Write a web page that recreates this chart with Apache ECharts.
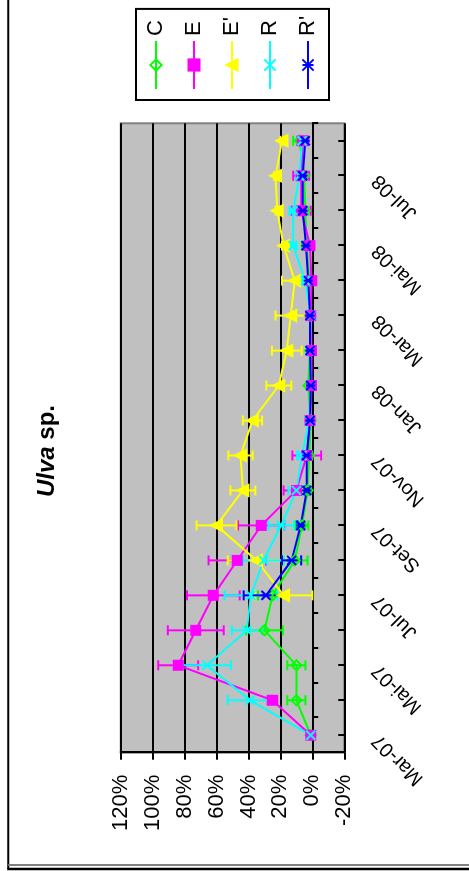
<!DOCTYPE html>
<html>
<head>
<meta charset="utf-8">
<script src="https://cdn.jsdelivr.net/npm/echarts@6/dist/echarts.min.js"></script>
<style>
  html, body { margin: 0; padding: 0; background: #fff; overflow: hidden; }
  body { width: 469px; height: 871px; position: relative; }
  /* the chart is laid out landscape and turned a quarter turn counter-clockwise */
  #chart {
    position: absolute; left: 0; top: 0;
    width: 871px; height: 469px;
    transform-origin: 0 0;
    transform: translateY(871px) rotate(-90deg);
  }
</style>
</head>
<body>
<div id="chart"></div>
<script>
// Monthly sampling, Mar-07 .. Ago-08
const months = ['Mar-07','Abr-07','Mai-07','Jun-07','Jul-07','Ago-07','Set-07','Out-07','Nov-07',
                'Dez-07','Jan-08','Fev-08','Mar-08','Abr-08','Mai-08','Jun-08','Jul-08','Ago-08'];

const valueTicks = [-20, 0, 20, 40, 60, 80, 100, 120];

// Cover (%) per treatment, with +/- error
const seriesNames = ['C', 'E', "E'", 'R', "R'"];

const valC  = [1, 10, 10, 30, 25, 11, 6.5, 3, 2, 1, 2.5, 1.5, 1.5, 2, 3.5, 4.5, 5, 8];
const errC  = [0, 5.7, 5.7, 11.5, 9, 8, 4, 2, 2, 1, 1, 1, 1, 1, 3, 2, 2, 4];

const valE  = [1, 25, 84, 73, 62, 47, 32, 10, 3.5, 1.5, 0.5, 0.5, 1, 0.5, 1.5, 7, 7, 6];
const errE  = [0, 3, 12.5, 17.5, 16.5, 18, 14.5, 8, 9, 1, 1, 1, 1, 3, 2, 6, 5, 3.5];

const valE2 = [null, null, null, null, 18, 35, 60, 43.5, 45, 37.5, 21, 16, 13.5, 11, 18, 22, 23, 19];
const errE2 = [null, null, null, null, 18, 18, 12.5, 7.8, 7.6, 6, 7.8, 9.3, 9.6, 8, 1, 1, 1, 1];

const valR  = [1, 39, 66, 41, 38.5, 30.5, 19.5, 10, 6.5, 2, 1, 1.5, 1, 4.5, 12, 12, 8, 6.5];
const errR  = [0, 14, 15, 9.4, 16.5, 13, 8, 5, 3, 1, 1, 1, 1, 2, 2, 2.3, 2, 2];

const valR2 = [null, null, null, null, 29, 13, 7.3, 3.5, 3.5, 1.5, 1, 1.5, 1.5, 2.5, 4, 6, 6, 4.5];
const errR2 = [null, null, null, null, 14, 6, 2, 1, 1, 1, 1, 1, 1, 1, 1, 1, 1, 1];

const colors = ['#00FF00', '#FF00FF', '#FFFF00', '#00FFFF', '#0000FF'];

const FONT = '"Liberation Sans", Arial, sans-serif';

const symbolX = 'path://M0,0L10,10M10,0L0,10';
const symbolStar = 'path://M0,0L10,10M10,0L0,10M5,0L5,10';

const defs = [
  { name: seriesNames[0], vals: valC,  errs: errC,  symbol: 'diamond',  size: 10, fill: 'rgba(0,0,0,0)' },
  { name: seriesNames[1], vals: valE,  errs: errE,  symbol: 'rect',     size: 9,  fill: null },
  { name: seriesNames[2], vals: valE2, errs: errE2, symbol: 'triangle', size: 11, fill: null },
  { name: seriesNames[3], vals: valR,  errs: errR,  symbol: symbolX,    size: 9,  fill: 'rgba(0,0,0,0)' },
  { name: seriesNames[4], vals: valR2, errs: errR2, symbol: symbolStar, size: 9,  fill: 'rgba(0,0,0,0)' }
];

function errorBarRenderer(color) {
  return function (params, api) {
    const x = api.value(0);
    const lo = api.coord([x, api.value(1)]);
    const hi = api.coord([x, api.value(2)]);
    const w = 5;
    const style = { stroke: color, lineWidth: 2 };
    return {
      type: 'group',
      children: [
        { type: 'line', shape: { x1: lo[0], y1: lo[1], x2: hi[0], y2: hi[1] }, style: style },
        { type: 'line', shape: { x1: lo[0] - w, y1: lo[1], x2: lo[0] + w, y2: lo[1] }, style: style },
        { type: 'line', shape: { x1: hi[0] - w, y1: hi[1], x2: hi[0] + w, y2: hi[1] }, style: style }
      ]
    };
  };
}

const series = [];
defs.forEach(function (d, k) {
  const color = colors[k];
  const errData = [];
  d.vals.forEach(function (v, i) {
    if (v != null && d.errs[i]) errData.push([i, v - d.errs[i], v + d.errs[i]]);
  });
  series.push({
    name: d.name + ' err',
    type: 'custom',
    xAxisIndex: 0,
    yAxisIndex: 0,
    renderItem: errorBarRenderer(color),
    encode: { x: 0, y: [1, 2] },
    data: errData,
    silent: true,
    animation: false
  });
  series.push({
    name: d.name,
    type: 'line',
    xAxisIndex: 0,
    yAxisIndex: 0,
    data: d.vals,
    symbol: d.symbol,
    symbolSize: d.size,
    showAllSymbol: true,
    connectNulls: false,
    lineStyle: { color: color, width: 2 },
    itemStyle: { color: d.fill || color, borderColor: color, borderWidth: 2 },
    emphasis: { disabled: true },
    animation: false
  });
});

const chart = echarts.init(document.getElementById('chart'), null, { renderer: 'canvas' });

chart.setOption({
  backgroundColor: '#ffffff',
  textStyle: { fontFamily: FONT },
  title: {
    text: '{i|Ulva} sp.',
    left: 369,
    top: 30,
    textStyle: {
      fontFamily: FONT, fontSize: 24, fontWeight: 'bold', color: '#000',
      rich: { i: { fontFamily: FONT, fontSize: 24, fontWeight: 'bold', fontStyle: 'italic', color: '#000' } }
    }
  },
  legend: {
    data: seriesNames,
    orient: 'vertical',
    left: 771,
    top: 136,
    padding: [9, 7, 10, 10],
    itemGap: 16,
    itemWidth: 48,
    itemHeight: 14,
    borderColor: '#000',
    borderWidth: 2,
    backgroundColor: '#fff',
    selectedMode: false,
    textStyle: { fontFamily: FONT, fontSize: 22, color: '#000', lineHeight: 22 }
  },
  grid: {
    left: 118.3,
    right: 123.3,
    top: 120.7,
    bottom: 124.7,
    show: true,
    backgroundColor: '#C0C0C0',
    borderColor: '#808080',
    borderWidth: 2
  },
  xAxis: [
    {
      type: 'category',
      data: months,
      position: 'bottom',
      boundaryGap: true,
      axisLine: { show: true, lineStyle: { color: '#000', width: 2 } },
      axisTick: { show: true, inside: false, length: 6, interval: 0, lineStyle: { color: '#000', width: 2 } },
      axisLabel: { interval: 1, rotate: 45, margin: 29, padding: [0, 3, 0, 0], fontFamily: FONT, fontSize: 20, color: '#000' },
      splitLine: { show: false }
    },
    {
      type: 'category',
      data: months,
      position: 'bottom',
      boundaryGap: true,
      axisLine: { show: false },
      axisTick: { show: true, inside: true, alignWithLabel: true, length: 6, interval: 0, lineStyle: { color: '#000', width: 2 } },
      axisLabel: { show: false },
      splitLine: { show: false }
    }
  ],
  yAxis: {
    type: 'value',
    min: valueTicks[0],
    max: valueTicks[valueTicks.length - 1],
    interval: valueTicks[1] - valueTicks[0],
    axisLine: { show: true, lineStyle: { color: '#000', width: 2 } },
    axisTick: { show: true, inside: false, length: 7, lineStyle: { color: '#000', width: 2 } },
    axisLabel: { formatter: '{value}%', margin: 22, fontFamily: FONT, fontSize: 22, color: '#000' },
    splitLine: { show: true, lineStyle: { color: '#000', width: 2 } }
  },
  graphic: [
    { type: 'line', shape: { x1: 2, y1: 8.3, x2: 871, y2: 8.3 }, style: { stroke: '#000', lineWidth: 2 } },
    { type: 'line', shape: { x1: 6, y1: 8.3, x2: 6, y2: 469 }, style: { stroke: '#808080', lineWidth: 2 } },
    { type: 'line', shape: { x1: 2, y1: 7.3, x2: 2, y2: 469 }, style: { stroke: '#000', lineWidth: 2.5 } }
  ],
  series: series
});
</script>
</body>
</html>
